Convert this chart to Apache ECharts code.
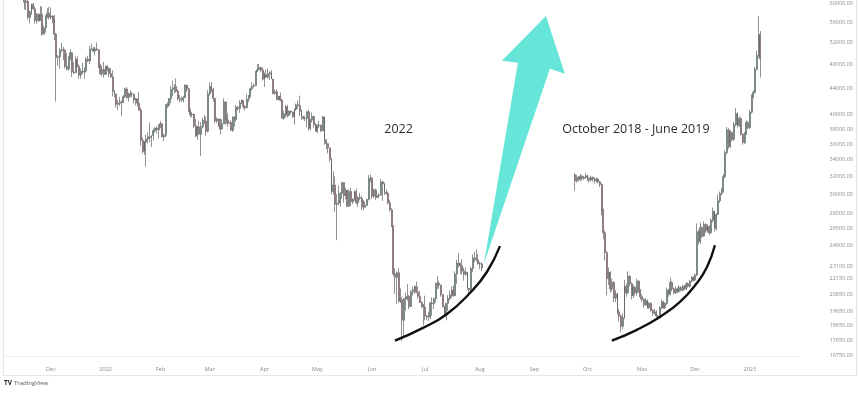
<!DOCTYPE html>
<html><head><meta charset="utf-8">
<script src="https://cdn.jsdelivr.net/npm/echarts@6/dist/echarts.min.js"></script>
<style>html,body{margin:0;padding:0;background:#fff}#c{width:860px;height:393px}</style>
</head><body><div id="c"></div>
<script>
// ---------- DATA ----------
// 2022 daily candles (open = previous close), starting 2021-11-16
const start2022 = '2021-11-16';
const firstOpen2022 = 63557;
const close2022 = [
 60161,60368,56943,58119,59697,58730,56289,57570,56280,57569,53569,54816,57248,57806,57005,
 57229,56477,53598,49253,49369,50582,50700,50504,47672,47243,49362,50098,46737,46612,48896,47665,46202,46848,46707,46880,48936,48628,50784,50822,50429,50809,50640,47588,46444,47178,46306,
 47686,47345,46458,45897,43569,43160,41558,41734,41911,41821,42735,43949,42591,43099,43177,43114,42250,42375,41744,40681,36457,35031,36276,36654,36954,36852,37138,37784,38138,37917,38483,
 38743,36952,37154,41500,41441,42412,43841,44118,44338,43565,42407,42244,42197,42586,44575,43961,40538,40030,40122,38431,37075,38286,37296,38332,39214,39105,37710,43193,
 44354,43925,42452,39137,39400,38420,37988,38731,41941,39439,38795,38904,37850,39666,39338,41143,40951,41801,42191,41247,41077,42358,42892,43961,44348,44500,46820,47128,47465,47062,45538,
 46281,45868,46453,46622,45555,43207,43503,42287,42782,42207,39521,40127,41166,39936,40553,40425,39717,40827,41503,41374,40527,39741,39486,39470,40458,38117,39241,39773,38610,37714,
 38469,38529,37751,39698,36575,36040,35502,34059,30296,31023,28936,29048,29283,30101,31305,29862,30425,28720,30315,29201,29445,30323,29098,29655,29562,29268,28627,28814,29445,31726,31792,
 29799,30467,29704,29832,29906,31370,31155,30214,30112,29083,28360,26762,22487,22206,22572,20381,20472,19017,20553,20599,20710,19987,21085,21231,21502,21028,20735,20281,20123,19942,
 19300,19243,19298,20231,20190,20548,21637,21731,21592,20860,19970,19323,20212,20569,20836,21190,20779,22485,23389,23231,23164,22714,22465,22609,21361,21239,22930,23843,23804,23656,23336,
 23314,22978
];
const high2022 = [
 63444,60817,60948,58367,59859,60004,59266,57875,57803,59367,59183,55329,57393,58872,59177,
 59041,57376,57482,53859,49699,50929,51934,51171,50797,50015,49458,50724,50205,48431,49473,49425,47995,47313,48300,47537,49328,49576,51332,51814,51156,51196,52016,50679,48119,47879,48472,
 47827,47881,47510,47406,47019,43748,43153,42228,42663,42199,43001,44135,44278,43346,43724,43436,43179,42534,42478,43413,41060,36836,36433,37247,37550,38919,37148,38031,38225,38360,38647,
 39115,38834,37387,41527,41884,42500,44401,45293,44727,45661,43921,43000,42760,42876,44667,44508,44164,40929,40444,40125,39403,38431,39161,38968,39630,40005,39792,43760,
 44949,45077,44053,42506,39651,39431,39542,39349,42465,41949,40218,39310,39209,39832,39794,41465,41287,42196,42316,42194,41454,43124,42965,44133,44999,44803,46888,48086,48096,47655,47572,
 46635,47155,47313,46873,47106,45534,43861,43906,42793,43376,42389,40617,41491,41475,40679,40596,40458,40956,41677,42127,42894,40814,39886,39911,40571,40739,39423,40347,39887,38826,
 38652,39136,38629,39902,39789,36574,36091,35502,34222,32596,32013,30032,30975,30253,31308,31298,30723,30442,30522,30710,29588,30425,30630,29799,30157,29849,29372,29204,29510,32166,32232,
 31957,30633,30623,29875,30132,31693,31527,31303,30532,30286,29411,28530,26795,22947,22678,22946,21333,20689,20610,21020,21685,20832,21196,21479,21544,21867,21478,21164,20364,20134,
 20781,19371,19600,20290,20659,20633,21815,22303,21916,21612,20870,20040,20225,20832,21168,21509,21586,22702,23676,24238,23421,23717,22988,23007,22662,21361,23078,24140,24359,24586,24167,
 23487,23439
];
const low2022 = [
 58574,58520,56550,55705,57469,58618,55679,55632,55964,57146,53300,53668,53879,56792,56528,
 56553,55777,52496,42000,47792,47281,50175,48765,47358,47023,46942,48725,45895,46424,46671,47529,45598,45598,46407,45579,46630,48450,48065,50514,50182,49623,50499,47414,46201,46060,45819,
 46288,46856,45835,45752,42798,42645,41077,40673,41338,39796,41768,42528,42447,41982,42669,42691,41680,41392,41242,40672,35791,34784,34602,33184,36081,36234,35629,36479,37518,37402,36733,
 38113,36832,36375,36920,41013,41174,41748,42807,43232,43402,42114,41852,41914,41867,42528,43458,40439,39637,39639,38125,36889,36550,37268,34459,38111,38696,37090,37518,
 42910,43432,41914,38805,38856,38373,37260,37985,38707,38623,38303,38793,37728,37606,38310,39022,40662,40302,41602,40903,40668,40948,41897,42581,43684,44168,44440,46710,46996,46679,45353,
 44255,45795,45626,45396,45544,43194,43072,42185,42165,42039,39466,39304,39604,39608,39820,40095,39597,38612,40583,40859,39833,39264,39349,39111,38240,37797,37857,38920,38195,37636,
 37442,38121,37587,37738,35910,35310,34800,33748,30000,29945,28170,25400,28830,28691,29491,29117,29469,28627,28783,28730,28947,29300,28942,28650,29343,28338,28282,28624,28768,29339,31312,
 29501,29591,29389,29563,29599,29933,29292,29927,29960,28913,28159,26636,22324,20900,20173,20258,20241,17624,17962,19677,20386,19770,19927,20784,20906,20968,20560,20229,19867,18664,
 19000,19010,18966,19075,19311,19782,20250,21270,21325,20705,19910,19267,18999,19663,20422,20578,20700,20762,21681,23004,22493,22424,21951,22325,21255,20781,21076,22630,23460,23549,23241,
 22865,22708
];

// Pasted "October 2018 - June 2019" pattern, drawn from 2022-09-24
const startPattern = '2022-09-24';
const firstOpenPattern = 32200;
const closePattern = [
 31500,31900,31700,32000,31800,31900,32100,31800,31600,31900,31700,31500,31700,31400,31100,
 28300,26100,24300,22100,22600,21300,21800,20600,20900,19600,19300,18600,19200,21500,21000,
 22300,21700,20800,21400,21000,21900,21200,20700,20500,20100,20400,19900,20200,19700,19500,
 19600,19300,19200,19900,20300,19900,20200,21200,20900,21800,21300,21000,21300,21100,21400,
 21200,21500,21300,21700,21500,21900,22200,22000,22400,26200,25300,26600,25800,26900,26300,
 26700,26100,27300,28200,26500,27900,29300,30100,30400,32000,34900,37900,35700,37500,36600,
 38600,40200,38500,39500,37300,36200,37400,38900,38200,40400,42800,43400,47200,49600,53500,49000
];
const highPattern = [
 32400,32200,32100,32300,32200,32100,32400,32200,31900,32100,32000,31900,31900,31800,31500,
 31200,28500,26300,24400,23000,22700,22100,21900,21200,21000,19800,19400,19500,22000,21700,
 22700,22400,21800,21600,21500,22100,22000,21300,20900,20600,20600,20500,20300,20300,19800,
 19800,19700,19400,20000,20500,20400,20300,21400,21300,22200,21900,21400,21500,21400,21600,
 21500,21600,21600,21800,21800,22000,22300,22300,22500,27000,26400,27100,26700,27200,27000,
 26900,26800,27500,28600,28300,28000,30000,30300,30700,32300,35200,38300,38100,37800,37700,
 39000,41000,40400,39800,39600,37400,37600,39200,39100,40700,43100,43700,47600,50500,57200,54200
];
const lowPattern = [
 30400,31300,31400,31500,31500,31600,31700,31500,31300,31400,31400,31200,31300,31200,30800,
 27800,25500,23600,20800,21600,21000,21100,20300,20300,19400,18900,18200,18400,19100,20700,
 20900,21500,20500,20600,20800,20800,21000,20500,20300,19900,20000,19800,19800,19600,19300,
 19400,19200,19050,19100,19800,19800,19800,20100,20700,20800,21100,20900,20900,21000,21000,
 21100,21100,21200,21200,21400,21400,21800,21900,21900,22300,25000,25100,25600,25700,26100,
 26100,25900,26000,27100,26200,26300,27800,29100,29900,30200,31800,34700,35400,35500,36300,
 36400,38400,38200,38300,37100,35900,36000,37200,38000,38000,40200,42500,43200,47000,49200,45800
];

// Price-scale tick labels and month labels
const priceTicks = [60000,56000,52000,48000,44000,40000,38000,36000,34000,32000,30000,28000,26500,24900,23100,22150,20850,19650,18650,17650,16750];
const monthTicks = ['2021-12-01','2022-01-01','2022-02-01','2022-03-01','2022-04-01','2022-05-01','2022-06-01','2022-07-01','2022-08-01','2022-09-01','2022-10-01','2022-11-01','2022-12-01','2023-01-01'];
const monthNames = ['Jan','Feb','Mar','Apr','May','Jun','Jul','Aug','Sep','Oct','Nov','Dec'];

// Hand-drawn annotations (date, price)
const curve2022 = [['2022-06-13 22:00',17650],['2022-06-29 19:00',18490],['2022-07-13 10:00',19450],['2022-07-26 10:00',20980],['2022-08-05 00:00',22640],['2022-08-12 10:00',24860]];
const curvePattern = [['2022-10-14 19:00',17650],['2022-10-29 00:00',18360],['2022-11-11 00:00',19240],['2022-11-22 10:00',20310],['2022-12-02 00:00',21760],['2022-12-07 17:00',23050],['2022-12-12 05:00',24950]];
const arrowPts = [['2022-08-03 07:00',23300],['2022-08-22 14:00',48320],['2022-08-13 12:00',48670],['2022-09-07 11:00',57250],['2022-09-18 05:00',46430],['2022-09-09 17:00',47280]];
const labels = [{text:'2022', at:['2022-06-16 00:00',38000]},{text:'October 2018 - June 2019', at:['2022-10-28 10:00',37900]}];

// ---------- BUILD ----------
const DAY = 86400000;
const T = s => Date.parse((s.length === 10 ? s + 'T00:00' : s.replace(' ', 'T')) + ':00Z');
function candles(start, firstOpen, closes, highs, lows) {
  const t0 = T(start), out = [];
  let prev = firstOpen;
  for (let i = 0; i < closes.length; i++) {
    const o = prev, c = closes[i];
    out.push([t0 + i * DAY, o, c, Math.min(lows[i], o, c), Math.max(highs[i], o, c)]);
    prev = c;
  }
  return out;
}
const pts = arr => arr.map(p => [T(p[0]), p[1]]);

const candleStyle = {
  color: '#8fd6ca', color0: '#ec9aa3',
  borderColor: '#4a4a4a', borderColor0: '#4a4a4a', borderWidth: 0.6
};

const chart = echarts.init(document.getElementById('c'), null, {renderer: 'canvas'});
chart.setOption({
  animation: false,
  backgroundColor: '#ffffff',
  grid: {left: 4, right: 60, top: 2, bottom: 37, containLabel: false},
  xAxis: {
    type: 'value',
    min: T('2021-11-04 10:00'), max: T('2023-01-29 10:00'),
    axisLine: {show: true, lineStyle: {color: '#eeeeee'}},
    axisTick: {show: false},
    splitLine: {show: false},
    axisLabel: {
      customValues: monthTicks.map(T),
      formatter: v => { const d = new Date(v); const m = d.getUTCMonth(); return m === 0 ? String(d.getUTCFullYear()) : monthNames[m]; },
      fontSize: 5.5, color: '#8a8a8a', fontFamily: 'Open Sans', margin: 10
    }
  },
  yAxis: {
    type: 'log', logBase: 10, position: 'right',
    min: 16700, max: 60000,
    axisLine: {show: false}, axisTick: {show: false}, splitLine: {show: false},
    axisLabel: {
      customValues: priceTicks,
      formatter: v => Number(v).toFixed(2),
      fontSize: 5.5, color: '#8a8a8a', fontFamily: 'Open Sans', align: 'right', margin: 53
    }
  },
  series: [
    {type: 'candlestick', name: '2022', data: candles(start2022, firstOpen2022, close2022, high2022, low2022),
     encode: {x: 0, y: [1, 2, 3, 4]}, barWidth: 1.4, itemStyle: candleStyle, clip: true, z: 2},
    {type: 'candlestick', name: 'pattern', data: candles(startPattern, firstOpenPattern, closePattern, highPattern, lowPattern),
     encode: {x: 0, y: [1, 2, 3, 4]}, barWidth: 1.4, itemStyle: candleStyle, clip: true, z: 2},
    {type: 'line', data: pts(curve2022), smooth: 0.5, showSymbol: false, lineStyle: {color: '#111', width: 2.4}, z: 5},
    {type: 'line', data: pts(curvePattern), smooth: 0.5, showSymbol: false, lineStyle: {color: '#111', width: 2.4}, z: 5}
  ]
});

const px = p => chart.convertToPixel({xAxisIndex: 0, yAxisIndex: 0}, [T(p[0]), p[1]]);
chart.setOption({
  graphic: [
    {type: 'polygon', shape: {points: arrowPts.map(px)}, style: {fill: '#66e5d9'}, z: 10},
    ...labels.map(l => { const q = px(l.at); return {type: 'text', x: q[0], y: q[1], z: 11,
      style: {text: l.text, fill: '#2b2b2b', font: '12.5px "Open Sans"', textAlign: 'center', textVerticalAlign: 'middle'}}; }),
    {type: 'rect', shape: {x: 3.5, y: -2, width: 853, height: 377.5}, style: {fill: 'none', stroke: '#e6e6e6', lineWidth: 1}, z: 1},
    {type: 'text', x: 4, y: 383, style: {text: 'TV', fill: '#131722', font: 'bold 6.5px "Open Sans"', textVerticalAlign: 'middle'}, z: 11},
    {type: 'text', x: 14, y: 383, style: {text: 'TradingView', fill: '#555', font: '6px "Open Sans"', textVerticalAlign: 'middle'}, z: 11}
  ]
});
</script></body></html>
